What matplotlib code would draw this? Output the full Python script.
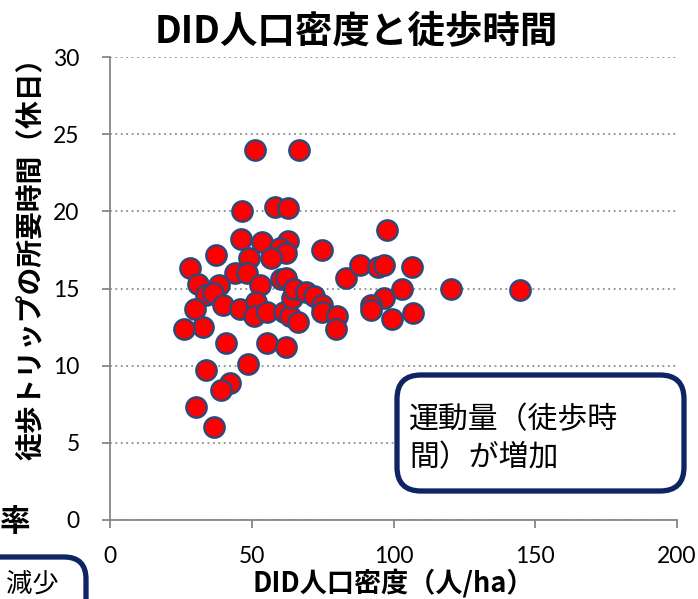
import matplotlib
matplotlib.use("Agg")
import matplotlib.pyplot as plt
from matplotlib.patches import FancyBboxPatch

plt.rcParams["font.family"] = ["Lato", "Noto Sans CJK JP", "DejaVu Sans"]

# DID population density (persons/ha) and walking-trip time (holiday)
density = [
    51.0, 66.8, 46.4, 58.0, 62.9, 46.0, 53.4, 62.9, 59.8, 62.2,
    74.9, 37.3, 48.9, 56.6, 28.1, 43.9, 48.2, 30.9, 38.3, 52.7,
    60.1, 62.2, 83.3, 33.7, 36.2, 39.7, 29.9, 45.7, 51.3, 50.6,
    55.5, 61.2, 63.3, 64.3, 65.0, 69.2, 72.1, 74.9, 74.9, 80.1,
    79.8, 66.4, 32.7, 26.0, 40.8, 55.5, 61.9, 48.5, 33.7, 42.2,
    39.0, 30.2, 36.6, 97.7, 88.2, 94.6, 96.7, 106.5, 120.2, 144.8,
    103.0, 96.7, 92.1, 92.1, 99.5, 106.9,
]
walk_time = [
    24.0, 24.0, 20.0, 20.3, 20.2, 18.2, 18.0, 18.1, 17.6, 17.3,
    17.5, 17.2, 17.0, 17.0, 16.3, 16.0, 16.0, 15.3, 15.2, 15.2,
    15.6, 15.7, 15.7, 14.6, 14.7, 13.9, 13.7, 13.7, 14.1, 13.2,
    13.5, 13.5, 13.2, 14.4, 15.0, 14.8, 14.5, 13.9, 13.5, 13.2,
    12.4, 12.8, 12.5, 12.4, 11.5, 11.5, 11.2, 10.1, 9.7, 8.9,
    8.4, 7.3, 6.0, 18.8, 16.5, 16.4, 16.5, 16.4, 15.0, 14.9,
    15.0, 14.4, 13.9, 13.6, 13.0, 13.4,
]
x_ticks = [0, 50, 100, 150, 200]
y_ticks = [0, 5, 10, 15, 20, 25, 30]

W, H = 698, 599
fig = plt.figure(figsize=(W / 100, H / 100), dpi=100)
fig.patch.set_facecolor("white")

ax = fig.add_axes([110.3 / W, 1 - 520 / H, 566.4 / W, 463 / H])
ax.scatter(density, walk_time, s=215, color="#FF0000", edgecolor="#2A4A7C",
           linewidth=1.7, zorder=3, clip_on=False)
ax.set_xlim(0, 200)
ax.set_ylim(0, 30)
ax.set_xticks(x_ticks)
ax.set_yticks(y_ticks)
ax.yaxis.grid(True, linestyle=(0, (1, 2)), color="#8C8C8C", linewidth=1.3)
ax.set_axisbelow(True)
for side in ["top", "right"]:
    ax.spines[side].set_visible(False)
for side in ["left", "bottom"]:
    ax.spines[side].set_color("#868686")
    ax.spines[side].set_linewidth(1.3)
ax.tick_params(axis="both", direction="out", length=6, width=1.3,
               color="#868686", labelsize=16.5, labelcolor="black")
ax.tick_params(axis="y", pad=16)
ax.tick_params(axis="x", pad=13)

jp = ["Noto Sans CJK JP", "DejaVu Sans"]
fig.text(356 / W, 1 - 31 / H, "DID人口密度と徒歩時間", family=jp,
         fontsize=27, fontweight="bold", ha="center", va="center")
fig.text(393 / W, 1 - 583 / H, "DID人口密度（人/ha）", family=jp,
         fontsize=19.5, fontweight="bold", ha="center", va="center")
fig.text(32 / W, 1 - 252 / H, "徒歩トリップの所要時間（休日）", family=jp,
         fontsize=20, fontweight="bold", ha="center", va="center",
         rotation=90)

# overlay in pixel coordinates for the callout boxes
ov = fig.add_axes([0, 0, 1, 1], facecolor="none")
ov.set_xlim(0, W)
ov.set_ylim(H, 0)
ov.axis("off")

ov.add_patch(FancyBboxPatch((397, 375), 287, 116,
                            boxstyle="round,pad=0,rounding_size=24",
                            facecolor="white", edgecolor="#0D2563",
                            linewidth=3.8, zorder=5))
ov.text(409, 420, "運動量（徒歩時", family=jp, fontsize=21.5,
        ha="left", va="center", zorder=6)
ov.text(409, 458, "間）が増加", family=jp, fontsize=21.5,
        ha="left", va="center", zorder=6)

# fragments of the neighbouring chart on the slide
ov.text(0, 522, "率", family=jp, fontsize=22, fontweight="bold",
        ha="left", va="center")
ov.add_patch(FancyBboxPatch((-200, 557), 286, 120,
                            boxstyle="round,pad=0,rounding_size=22",
                            facecolor="white", edgecolor="#0D2563",
                            linewidth=3.8, zorder=5))
ov.text(6, 584, "減少", family=jp, fontsize=19,
        ha="left", va="center", zorder=6)

fig.savefig("out.png", dpi=100)
